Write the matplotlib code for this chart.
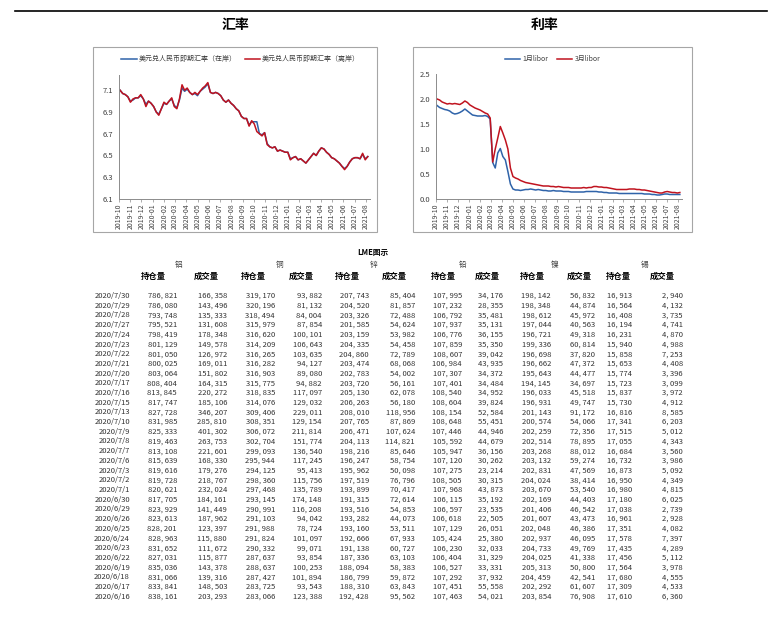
import pandas as pd
import numpy as np
import matplotlib
matplotlib.use("Agg")
from matplotlib import pyplot as plt
import matplotlib.dates as mdates
from matplotlib.patches import Rectangle
from matplotlib.lines import Line2D

plt.rcParams['font.family'] = ['Noto Sans CJK SC', 'DejaVu Sans']

# weekly sampling dates for the two line charts
dates = pd.date_range("2019-10-04", "2021-08-06", freq="7D")

cny_onshore = [7.10, 7.07, 7.06, 7.04, 7.00, 7.01, 7.03, 7.03, 7.05, 7.02,
               6.97, 7.00, 6.98, 6.95, 6.90, 6.88, 6.93, 6.98, 6.97, 7.00,
               7.02, 6.96, 6.94, 7.01, 7.12, 7.09, 7.11, 7.08, 7.06, 7.07,
               7.05, 7.09, 7.11, 7.13, 7.16, 7.08, 7.07, 7.08, 7.07, 7.05,
               7.01, 6.99, 7.01, 6.98, 6.96, 6.93, 6.91, 6.86, 6.84, 6.84,
               6.78, 6.81, 6.81, 6.81, 6.70, 6.69, 6.71, 6.61, 6.58, 6.57,
               6.58, 6.54, 6.55, 6.54, 6.53, 6.53, 6.47, 6.48, 6.49, 6.46,
               6.47, 6.45, 6.43, 6.46, 6.49, 6.52, 6.50, 6.54, 6.57, 6.56,
               6.53, 6.51, 6.48, 6.47, 6.45, 6.43, 6.40, 6.38, 6.40, 6.44,
               6.47, 6.48, 6.48, 6.47, 6.51, 6.47, 6.49]
cny_offshore = [7.10, 7.07, 7.06, 7.04, 6.99, 7.02, 7.03, 7.03, 7.06, 7.02,
                6.95, 7.00, 6.98, 6.95, 6.90, 6.87, 6.93, 6.99, 6.97, 7.00,
                7.03, 6.95, 6.93, 7.02, 7.15, 7.10, 7.12, 7.08, 7.06, 7.08,
                7.06, 7.09, 7.12, 7.14, 7.17, 7.08, 7.07, 7.08, 7.07, 7.05,
                7.01, 6.99, 7.01, 6.98, 6.96, 6.93, 6.91, 6.86, 6.84, 6.84,
                6.77, 6.82, 6.79, 6.72, 6.70, 6.68, 6.71, 6.60, 6.58, 6.57,
                6.58, 6.54, 6.55, 6.54, 6.53, 6.53, 6.46, 6.48, 6.49, 6.46,
                6.47, 6.45, 6.43, 6.46, 6.49, 6.52, 6.50, 6.54, 6.57, 6.56,
                6.53, 6.51, 6.48, 6.47, 6.45, 6.43, 6.40, 6.37, 6.40, 6.44,
                6.47, 6.48, 6.48, 6.47, 6.52, 6.46, 6.49]

libor_1m = [1.87, 1.83, 1.81, 1.79, 1.78, 1.76, 1.72, 1.70, 1.71, 1.73,
            1.76, 1.80, 1.76, 1.72, 1.68, 1.67, 1.66, 1.66, 1.66, 1.67,
            1.65, 1.60, 0.73, 0.62, 0.92, 1.01, 0.85, 0.78, 0.55, 0.30,
            0.20, 0.18, 0.18, 0.17, 0.18, 0.19, 0.19, 0.20, 0.19, 0.18,
            0.19, 0.18, 0.17, 0.17, 0.16, 0.16, 0.17, 0.16, 0.16, 0.16,
            0.15, 0.15, 0.15, 0.14, 0.14, 0.14, 0.14, 0.14, 0.14, 0.15,
            0.15, 0.15, 0.15, 0.15, 0.14, 0.14, 0.13, 0.13, 0.12, 0.12,
            0.12, 0.12, 0.11, 0.11, 0.11, 0.11, 0.11, 0.11, 0.11, 0.11,
            0.11, 0.11, 0.10, 0.10, 0.10, 0.09, 0.09, 0.08, 0.08, 0.09,
            0.10, 0.10, 0.09, 0.09, 0.09, 0.09, 0.09]
libor_3m = [2.00, 1.98, 1.94, 1.92, 1.90, 1.91, 1.90, 1.91, 1.90, 1.89,
            1.92, 1.96, 1.93, 1.88, 1.85, 1.82, 1.80, 1.78, 1.75, 1.72,
            1.70, 1.62, 0.74, 1.00, 1.22, 1.45, 1.32, 1.18, 1.00, 0.62,
            0.45, 0.42, 0.40, 0.37, 0.35, 0.33, 0.32, 0.31, 0.30, 0.29,
            0.28, 0.27, 0.26, 0.26, 0.26, 0.25, 0.25, 0.24, 0.25, 0.24,
            0.23, 0.23, 0.23, 0.22, 0.22, 0.22, 0.22, 0.22, 0.23, 0.22,
            0.23, 0.23, 0.25, 0.25, 0.24, 0.24, 0.23, 0.23, 0.22, 0.21,
            0.20, 0.19, 0.19, 0.19, 0.19, 0.19, 0.20, 0.20, 0.20, 0.19,
            0.19, 0.18, 0.18, 0.17, 0.16, 0.15, 0.14, 0.13, 0.12, 0.12,
            0.14, 0.15, 0.14, 0.13, 0.13, 0.12, 0.13]

# LME table
metals = ["铝", "铜", "锌", "铅", "镍", "锡"]
sub_headers = ["持仓量", "成交量"]
row_dates = ["2020/7/30", "2020/7/29", "2020/7/28", "2020/7/27", "2020/7/24",
             "2020/7/23", "2020/7/22", "2020/7/21", "2020/7/20", "2020/7/17",
             "2020/7/16", "2020/7/15", "2020/7/13", "2020/7/10", "2020/7/9",
             "2020/7/8", "2020/7/7", "2020/7/6", "2020/7/3", "2020/7/2",
             "2020/7/1", "2020/6/30", "2020/6/29", "2020/6/26", "2020/6/25",
             "2020/6/24", "2020/6/23", "2020/6/22", "2020/6/19", "2020/6/18",
             "2020/6/17", "2020/6/16"]
al_oi = [786821, 786080, 793748, 795521, 798419, 801129, 801050, 800025, 803064, 808404,
         813845, 817747, 827728, 831985, 825333, 819463, 813108, 815639, 819616, 819728,
         820621, 817705, 823929, 823613, 828201, 828963, 831652, 827031, 835036, 831066,
         833841, 838161]
al_vol = [166358, 143496, 135333, 131608, 178348, 149578, 126972, 169011, 151802, 164315,
          220272, 185106, 346207, 285810, 401302, 263753, 221601, 168330, 179276, 218767,
          232024, 184161, 141449, 187962, 123397, 115880, 111672, 115877, 143378, 139316,
          148503, 203293]
cu_oi = [319170, 320196, 318494, 315979, 316620, 314209, 316265, 316282, 316903, 315775,
         318835, 314076, 309406, 308351, 306072, 302704, 299093, 295944, 294125, 298360,
         297468, 293145, 290991, 291103, 291988, 291824, 290332, 287637, 288637, 287427,
         283725, 283066]
cu_vol = [93882, 81132, 84004, 87854, 100101, 106643, 103635, 94127, 89080, 94882,
          117097, 129032, 229011, 129154, 211814, 151774, 136540, 117245, 95413, 115756,
          135789, 174148, 116208, 94042, 78724, 101097, 99071, 93854, 100253, 101894,
          93543, 123388]
zn_oi = [207743, 204520, 203326, 201585, 203159, 204335, 204860, 203474, 202783, 203720,
         205130, 206263, 208010, 207765, 206471, 204113, 198216, 196247, 195962, 197519,
         193899, 191315, 193516, 193282, 193160, 192666, 191138, 187336, 188094, 186799,
         188310, 192428]
zn_vol = [85404, 81857, 72488, 54624, 53982, 54458, 72789, 68068, 54002, 56161,
          62078, 56180, 118956, 87869, 107624, 114821, 85646, 58754, 50098, 76796,
          70417, 72614, 54853, 44073, 53511, 67933, 60727, 63103, 58383, 59872,
          63843, 95562]
pb_oi = [107995, 107232, 106792, 107937, 106776, 107859, 108607, 106984, 107307, 107401,
         108540, 108604, 108154, 108648, 107446, 105592, 105947, 107120, 107275, 108505,
         107968, 106115, 106597, 106618, 107129, 105424, 106230, 106404, 106527, 107292,
         107451, 107463]
pb_vol = [34176, 28355, 35481, 35131, 36155, 35350, 39042, 43935, 34372, 34484,
          34952, 39824, 52584, 55451, 44946, 44679, 36156, 30262, 23214, 30315,
          43873, 35192, 23535, 22505, 26051, 25380, 32033, 31329, 33331, 37932,
          55558, 54021]
ni_oi = [198142, 198348, 198612, 197044, 196721, 199336, 196698, 196662, 195643, 194145,
         196033, 196931, 201143, 200574, 202259, 202514, 203268, 203132, 202831, 204024,
         203670, 202169, 201406, 201607, 202048, 202937, 204733, 204025, 205313, 204459,
         202292, 203854]
ni_vol = [56832, 44874, 45972, 40563, 49318, 60814, 37820, 47372, 44477, 34697,
          45518, 49747, 91172, 54066, 72356, 78895, 88012, 59274, 47569, 38414,
          53540, 44403, 46542, 43473, 46386, 46095, 49769, 41338, 50800, 42541,
          61607, 76908]
sn_oi = [16913, 16564, 16408, 16194, 16231, 15940, 15858, 15653, 15774, 15723,
         15837, 15730, 16816, 17341, 17515, 17055, 16684, 16732, 16873, 16950,
         16980, 17180, 17038, 16961, 17351, 17578, 17435, 17456, 17564, 17680,
         17309, 17610]
sn_vol = [2940, 4132, 3735, 4741, 4870, 4988, 7253, 4408, 3396, 3099,
          3972, 4912, 8585, 6203, 5012, 4343, 3560, 3986, 5092, 4349,
          4815, 6025, 2739, 2928, 4082, 7397, 4289, 5112, 3978, 4555,
          4533, 6360]
columns = [al_oi, al_vol, cu_oi, cu_vol, zn_oi, zn_vol,
           pb_oi, pb_vol, ni_oi, ni_vol, sn_oi, sn_vol]

W, H = 782, 624
fig = plt.figure(figsize=(W / 100, H / 100), dpi=100)


def fx(px):
    return px / W


def fy(py):
    return 1 - py / H


# top rule and section titles
fig.add_artist(Line2D([fx(15), fx(767)], [fy(11), fy(11)], color="black", lw=1.2))
fig.text(fx(235), fy(25), "汇率", ha="center", va="center", fontsize=10, fontweight="bold")
fig.text(fx(545), fy(25), "利率", ha="center", va="center", fontsize=10, fontweight="bold")

# chart frames
for x0, x1 in [(93, 377), (413, 692)]:
    fig.add_artist(Rectangle((fx(x0), fy(232)), fx(x1 - x0), (232 - 47) / H,
                             fill=False, edgecolor="#a6a6a6", lw=0.8))

blue = "#2f63a9"
red = "#c0131f"


def style_axis(ax):
    for s in ["top", "right"]:
        ax.spines[s].set_visible(False)
    for s in ["left", "bottom"]:
        ax.spines[s].set_color("#8c8c8c")
        ax.spines[s].set_linewidth(0.7)
    ax.xaxis.set_major_locator(mdates.MonthLocator())
    ax.xaxis.set_major_formatter(mdates.DateFormatter("%Y-%m"))
    ax.tick_params(axis="x", labelsize=5, rotation=90, length=2, width=0.5,
                   color="#8c8c8c", pad=1, labelcolor="#404040")
    ax.tick_params(axis="y", labelsize=5.5, length=0, pad=4, labelcolor="#404040")
    ax.set_xlim(pd.Timestamp("2019-10-01"), pd.Timestamp("2021-08-12"))


# exchange rate
ax1 = fig.add_axes([fx(119), fy(199), fx(370 - 119), (199 - 75) / H])
ax1.plot(dates, cny_onshore, color=blue, lw=1.1)
ax1.plot(dates, cny_offshore, color=red, lw=1.1)
ax1.set_ylim(6.1, 7.24)
ax1.set_yticks([6.1, 6.3, 6.5, 6.7, 6.9, 7.1])
style_axis(ax1)
fig.add_artist(Line2D([fx(121), fx(137)], [fy(59), fy(59)], color=blue, lw=1.1))
fig.text(fx(139), fy(59), "美元兑人民币即期汇率（在岸）", fontsize=5, va="center", color="#404040")
fig.add_artist(Line2D([fx(245), fx(260)], [fy(59), fy(59)], color=red, lw=1.1))
fig.text(fx(262), fy(59), "美元兑人民币即期汇率（离岸）", fontsize=5, va="center", color="#404040")

# libor
ax2 = fig.add_axes([fx(436), fy(199), fx(682 - 436), (199 - 74) / H])
ax2.plot(dates, libor_1m, color=blue, lw=1.1)
ax2.plot(dates, libor_3m, color=red, lw=1.1)
ax2.set_ylim(0, 2.5)
ax2.set_yticks([0.0, 0.5, 1.0, 1.5, 2.0, 2.5])
ax2.yaxis.set_major_formatter(matplotlib.ticker.FormatStrFormatter("%.1f"))
style_axis(ax2)
fig.add_artist(Line2D([fx(505), fx(520)], [fy(59), fy(59)], color=blue, lw=1.1))
fig.text(fx(522), fy(59), "1月libor", fontsize=5, va="center", color="#404040")
fig.add_artist(Line2D([fx(557), fx(572)], [fy(59), fy(59)], color=red, lw=1.1))
fig.text(fx(575), fy(59), "3月libor", fontsize=5, va="center", color="#404040")

# LME table
fig.text(fx(373), fy(252), "LME图示", fontsize=5.5, fontweight="bold", ha="center", va="center")
metal_x = [179, 280, 373, 463, 555, 645]
for m, x in zip(metals, metal_x):
    fig.text(fx(x), fy(265), m, fontsize=5.5, ha="center", va="center", color="#404040")
header_x = [153, 206, 253, 301, 347, 394, 443, 487, 532, 579, 618, 662]
for i, x in enumerate(header_x):
    fig.text(fx(x), fy(276), sub_headers[i % 2], fontsize=6, fontweight="bold",
             ha="center", va="center")
value_right = [177, 227, 275, 322, 369, 415, 462, 503, 551, 595, 632, 683]
row0, row_step = 296, 9.7
for r, d in enumerate(row_dates):
    y = fy(row0 + r * row_step)
    fig.text(fx(130), y, d, fontsize=5.5, ha="right", va="center", color="#333333")
    for col, xr in zip(columns, value_right):
        fig.text(fx(xr), y, f"{col[r]:,}".replace(",", ", "), fontsize=5.5,
                 ha="right", va="center", color="#333333")

fig.savefig("out.png", dpi=100)
